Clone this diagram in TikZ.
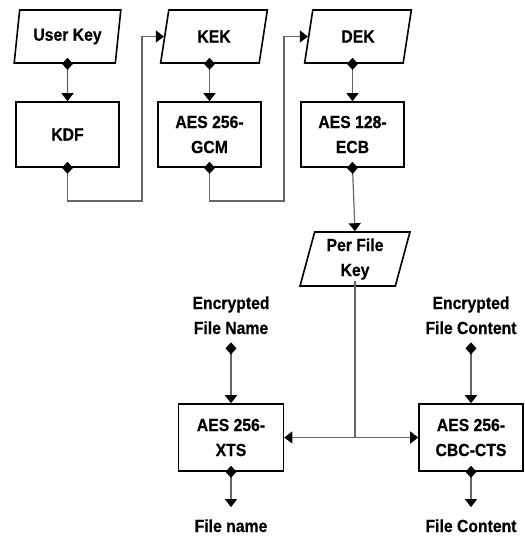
\documentclass[tikz,border=0pt]{standalone}
\usepackage{fontspec}
\setmainfont{Liberation Sans}[FakeStretch=0.9,BoldFeatures={FakeBold=0.6}]
\usetikzlibrary{shapes.geometric,arrows.meta,calc}
\tikzset{
  keybox/.style={draw,line width=1.6pt,trapezium,trapezium left angle=76,trapezium right angle=104,
    trapezium stretches=true,minimum width=107pt,minimum height=53pt,inner sep=0pt,align=center},
  algbox/.style={draw,line width=1.6pt,rectangle,minimum width=103pt,minimum height=65pt,inner sep=0pt,align=center},
  txt/.style={align=center,inner sep=0pt},
  tip/.style={-{Triangle[length=8pt,width=12pt,color=black]}},
  flow/.style={draw=black!60,line width=1.2pt,shorten <=-6pt,
    {Diamond[length=12pt,width=11pt,fill=black,color=black]}-{Triangle[length=8pt,width=12pt,color=black]}},
}
\begin{document}
\begin{tikzpicture}[x=1pt,y=-1pt,font=\fontsize{17.5}{25}\selectfont\bfseries]
\useasboundingbox (0,0) rectangle (525,536);
% keys and algorithms
\node[keybox] (ukey) at (67.5,36.5) {User Key};
\node[algbox] (kdf) at (67.5,134.5) {KDF};
\node[keybox] (kek) at (214,36.5) {KEK};
\node[algbox] (gcm) at (209.5,134.5) {AES 256-\\GCM};
\node[keybox] (dek) at (358,36.5) {DEK};
\node[algbox] (ecb) at (352.5,134.5) {AES 128-\\ECB};
\node[keybox,minimum width=110pt,minimum height=54pt] (pfk) at (355,259) {Per File\\Key};
\node[algbox,minimum width=105pt,minimum height=67pt] (xts) at (231,437.5) {AES 256-\\XTS};
\node[algbox,minimum width=104pt,minimum height=67pt] (cbc) at (471,437.5) {AES 256-\\CBC-CTS};
% inputs and outputs
\node[txt,anchor=base] (encname) at (231,334) {Encrypted\\File Name};
\node[txt,anchor=base] (enccont) at (471,334) {Encrypted\\File Content};
\node[txt,anchor=base] (fname) at (231,532) {File name};
\node[txt,anchor=base] (fcont) at (471,532) {File Content};
\coordinate (c1) at (142,201);
\coordinate (c2) at (284,201);
\coordinate (split) at (pfk.south |- xts.east);
% connectors
\draw[flow] (ukey.south) -- (kdf.north);
\draw[flow] (gcm.north |- kek.south) -- (gcm.north);
\draw[flow] (ecb.north |- dek.south) -- (ecb.north);
\draw[flow] (kdf.south) |- (c1) |- (kek.west);
\draw[flow] (gcm.south) |- (c2) |- (dek.west);
\draw[flow] (ecb.south) -- (pfk.north);
\draw[flow,-] (pfk.south) -- (split);
\draw[flow,shorten <=0pt,tip] (split) -- (xts.east);
\draw[flow,shorten <=0pt,tip] (split) -- (cbc.west);
\draw[flow] ($(encname.south)+(0,14)$) -- (xts.north);
\draw[flow] ($(enccont.south)+(0,14)$) -- (cbc.north);
\draw[flow] (xts.south) -- ($(fname.north)+(0,-12)$);
\draw[flow] (cbc.south) -- ($(fcont.north)+(0,-12)$);
\end{tikzpicture}
\end{document}
